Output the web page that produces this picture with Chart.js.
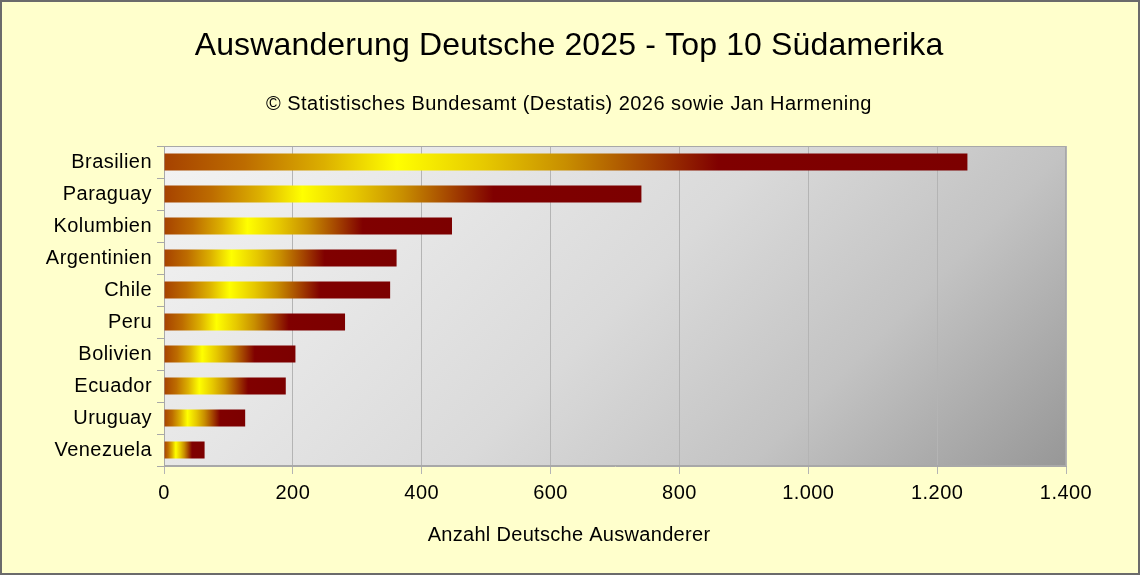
<!DOCTYPE html>
<html>
<head>
<meta charset="utf-8">
<script src="https://cdn.jsdelivr.net/npm/chart.js@4/dist/chart.umd.min.js"></script>
<style>
  html, body { margin: 0; padding: 0; background: #fff; }
  #wrap { width: 1144px; height: 576px; }
</style>
</head>
<body>
<div id="wrap"><canvas id="grafico" width="1144" height="576"></canvas></div>
<script>
const laender = ["Brasilien", "Paraguay", "Kolumbien", "Argentinien", "Chile", "Peru", "Bolivien", "Ecuador", "Uruguay", "Venezuela"]
const auswanderer = [1247, 741, 447, 361, 351, 281, 204, 189, 126, 63]
const titel = "Auswanderung Deutsche 2025 - Top 10 Südamerika"
const untertitel = "© Statistisches Bundesamt (Destatis) 2026 sowie Jan Harmening"
const achsenTitel = "Anzahl Deutsche Auswanderer"

const schrift = "'Liberation Sans', Arial, sans-serif"

// Farbverlauf je Balken: braun -> gelb -> dunkelrot
const balkenFarbe = (ctx) => {
    const chart = ctx.chart
    const x = chart.scales.x
    if (!chart.chartArea || !x || ctx.raw == null) return "#800000"
    const x0 = x.getPixelForValue(0)
    const x1 = x.getPixelForValue(ctx.raw)
    if (!isFinite(x0) || !isFinite(x1) || x1 - x0 < 1) return "#800000"
    const g = chart.ctx.createLinearGradient(x0, 0, x1, 0)
    g.addColorStop(0, "#a64200")
    g.addColorStop(0.1, "#bd6c00")
    g.addColorStop(0.2, "#dcb000")
    g.addColorStop(0.29, "#ffff00")
    g.addColorStop(0.4, "#e6c800")
    g.addColorStop(0.5, "#c88e00")
    g.addColorStop(0.6, "#a44400")
    g.addColorStop(0.69, "#800000")
    g.addColorStop(1, "#7c0000")
    return g
}

const hintergrund = {
    id: "hintergrund",
    beforeDraw(chart) {
        const c = chart.ctx
        const a = chart.chartArea
        c.save()
        c.fillStyle = "#ffffff"
        c.fillRect(0, 0, chart.width, chart.height)
        c.fillStyle = "#ffffcc"
        c.fillRect(0, 0, 1140, 575)
        c.strokeStyle = "#6b6b6b"
        c.lineWidth = 2
        c.strokeRect(1, 1, 1138, 573)
        const w = a.right - a.left
        const h = a.bottom - a.top
        const L = (w + h) / 2
        const g = c.createLinearGradient(a.left, a.top, a.left + L, a.top + L)
        g.addColorStop(0, "#f3f3f3")
        g.addColorStop(0.26, "#e7e7e7")
        g.addColorStop(0.5, "#dadada")
        g.addColorStop(0.74, "#c3c3c3")
        g.addColorStop(1, "#979797")
        c.fillStyle = g
        c.fillRect(a.left, a.top, w, h)
        c.restore()
        // etwas breitere Schrift wie im Original (gilt auch fuer die Achsenbeschriftung)
        c.letterSpacing = "0.45px"
    },
    beforeDatasetsDraw(chart) {
        const c = chart.ctx
        const a = chart.chartArea
        c.save()
        c.strokeStyle = "#a8a8a8"
        c.lineWidth = 1
        c.strokeRect(a.left + 0.5, a.top + 0.5, a.right - a.left - 1, a.bottom - a.top - 1)
        c.restore()
    },
    afterDraw(chart) {
        const c = chart.ctx
        const mitte = 569
        c.save()
        c.fillStyle = "#000"
        c.textAlign = "center"
        c.textBaseline = "middle"
        c.letterSpacing = "0.15px"
        c.font = "32px " + schrift
        c.fillText(titel, mitte, 46)
        c.letterSpacing = "0.45px"
        c.font = "20px " + schrift
        c.fillText(untertitel, mitte, 104)
        c.letterSpacing = "0.3px"
        c.fillText(achsenTitel, mitte, 535)
        c.restore()
        c.letterSpacing = "0px"
    }
}

const punkt = (v) => v.toString().replace(/\B(?=(\d{3})+(?!\d))/g, ".")

new Chart(document.getElementById("grafico"), {
    type: "bar",
    data: {
        labels: laender,
        datasets: [{
            label: "Auswanderer",
            data: auswanderer,
            backgroundColor: balkenFarbe,
            borderWidth: 0,
            categoryPercentage: 1,
            barPercentage: 0.53
        }]
    },
    options: {
        indexAxis: "y",
        responsive: false,
        animation: false,
        layout: { padding: { top: 146, right: 78, left: 0, bottom: 0 } },
        plugins: {
            legend: { display: false },
            tooltip: { enabled: false },
            title: { display: false }
        },
        scales: {
            x: {
                min: 0,
                max: 1400,
                afterFit: (s) => { s.height = 110 },
                ticks: {
                    stepSize: 200,
                    color: "#000",
                    padding: 7,
                    font: { family: schrift, size: 20 },
                    callback: (v) => punkt(v)
                },
                grid: { color: "#b4b4b4", tickLength: 8, lineWidth: 1 },
                border: { display: true, color: "#a8a8a8" }
            },
            y: {
                afterFit: (s) => { s.width = 164 },
                ticks: {
                    color: "#000",
                    padding: 5,
                    font: { family: schrift, size: 20 }
                },
                grid: { drawOnChartArea: false, color: "#a8a8a8", tickLength: 7, offset: true },
                border: { display: true, color: "#a8a8a8" }
            }
        }
    },
    plugins: [hintergrund]
})
</script>
</body>
</html>
